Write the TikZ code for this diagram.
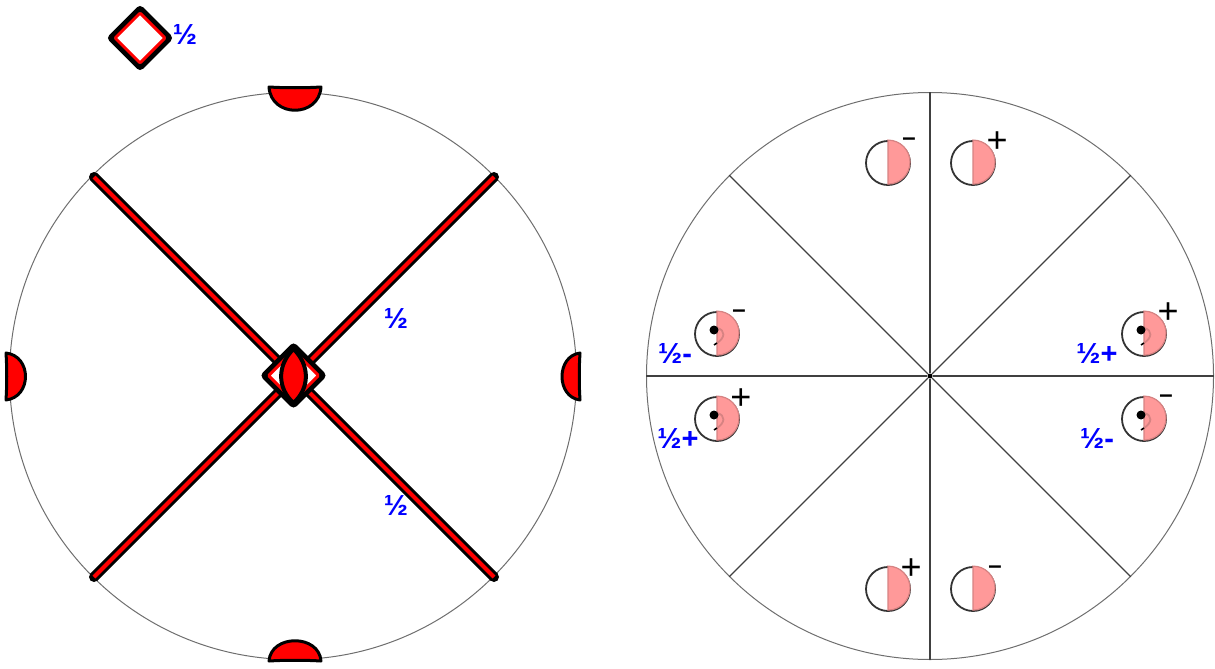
\documentclass[tikz,border=0pt]{standalone}
\usepackage{fontspec}
\setmainfont{Liberation Sans}
\usetikzlibrary{shapes.geometric}
\definecolor{symred}{RGB}{255,0,0}
\definecolor{halfpink}{RGB}{255,153,153}
\definecolor{halfedge}{RGB}{215,130,130}
\definecolor{rimgray}{RGB}{110,110,110}
\definecolor{labelblue}{RGB}{0,0,255}

\begin{document}
\begin{tikzpicture}[
    x=1pt, y=-1pt,
    rim/.style={circle, draw=rimgray, line width=1pt, minimum size=567pt, inner sep=0pt},
    spoke/.style={line width=1.1pt, black!75},
    axisdot/.style={circle, fill=black, minimum size=5pt, inner sep=0pt},
    glide/.style={draw=black, line width=3pt, double=symred, double distance=4pt},
    glideend/.style={circle, fill=black, minimum size=10pt, inner sep=0pt},
    lens/.style={draw=black, fill=symred, line width=3pt, line join=round},
    outerdiamond/.style={diamond, aspect=1, draw=black, fill=white, line width=5.5pt,
        rounded corners=2pt, minimum size=62pt, inner sep=0pt},
    innerdiamond/.style={diamond, aspect=1, draw=symred, line width=3pt,
        rounded corners=1pt, minimum size=51pt, inner sep=0pt},
    motif/.style={circle, draw=black!80, line width=1.8pt, minimum size=44pt, inner sep=0pt},
    halflabel/.style={text=labelblue, font=\bfseries\fontsize{29}{29}\selectfont, inner sep=0pt},
    plussign/.style={font=\fontsize{36}{36}\selectfont, inner sep=0pt},
    minussign/.style={font=\bfseries\fontsize{24}{24}\selectfont, inner sep=0pt}
]
\useasboundingbox (0,0) rectangle (1215,669);

% left disc
\node[rim] (leftdisc) at (293,376) {};
\draw[lens] (269,87) .. controls (271,118) and (319,118) .. (321,87) .. controls (305,88) and (285,88) .. cycle;
\draw[lens] (269,661) .. controls (271,634) and (319,634) .. (321,661) .. controls (305,660) and (285,660) .. cycle;
\draw[lens] (6,353) .. controls (32,356) and (32,397) .. (6,400) .. controls (7,385) and (7,368) .. cycle;
\draw[lens] (580,353) .. controls (556,356) and (556,397) .. (580,400) .. controls (579,385) and (579,368) .. cycle;

\node[glideend] (gul) at (94,177) {};
\node[glideend] (gur) at (494,177) {};
\node[glideend] (gll) at (94,577) {};
\node[glideend] (glr) at (494,577) {};
\draw[glide] (gul.center) -- (glr.center);
\draw[glide] (gur.center) -- (gll.center);

\node[outerdiamond] (centre) at (293.5,375.5) {};
\node[innerdiamond] (centrein) at (293.5,375.5) {};
\draw[lens, line width=4pt] (293.5,349) .. controls (277,365) and (277,388) .. (293.5,403)
    .. controls (310,388) and (310,365) .. cycle;

\node[outerdiamond] (legend) at (140,38) {};
\node[innerdiamond] (legendin) at (140,38) {};
\node[halflabel] (legendlab) at (185,34) {½};
\node[halflabel] (lab1) at (396,318) {½};
\node[halflabel] (lab2) at (396,505) {½};

% right disc
\node[rim] (rightdisc) at (930,376) {};
\node[axisdot] (axis) at (930,376) {};
\foreach \a in {0,45,...,315}
    \draw[spoke] (axis) -- (rightdisc.\a);

\foreach \n/\cx/\cy in {a/888/163, b/973/163, c/888/589, d/973/589,
        e/717/334, f/717/419, g/1144/334, h/1144/419} {
    \node[motif] (\n) at (\cx,\cy) {};
    \fill[halfpink, draw=halfedge, line width=1.2pt] (\n.north) arc[start angle=90, end angle=-90, radius=22pt] -- cycle;
}
% commas
\foreach \n in {e,f,g,h} {
    \draw[halfedge, line width=1.8pt] ([yshift=6pt]\n.center) .. controls ([xshift=9pt,yshift=4pt]\n.center) and ([xshift=8pt,yshift=-4pt]\n.center) .. ([yshift=-9pt]\n.center);
    \fill[black] ([xshift=-3pt,yshift=4pt]\n.center) circle[radius=4.5pt];
    \draw[black, line width=1.6pt] ([yshift=-9pt]\n.center) -- ([xshift=-3pt,yshift=-11pt]\n.center);
}

\node[minussign] (sa) at (909,142) {–};
\node[plussign] (sb) at (997,142) {+};
\node[plussign] (sc) at (911,569) {+};
\node[minussign] (sd) at (995,570) {–};
\node[minussign] (se) at (739,314) {–};
\node[plussign] (sf) at (741,399) {+};
\node[plussign] (sg) at (1168,313) {+};
\node[minussign] (sh) at (1166,399) {–};

\node[halflabel] (lg) at (1097,353) {½+};
\node[halflabel] (lh) at (1097,438) {½-};
\node[halflabel] (le) at (675,353) {½-};
\node[halflabel] (lf) at (678,438) {½+};

\end{tikzpicture}
\end{document}
